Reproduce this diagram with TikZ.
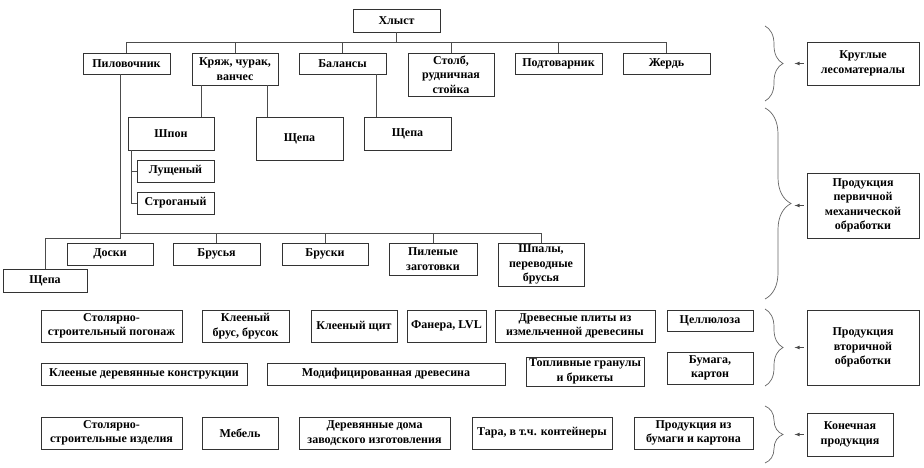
\documentclass[tikz,border=0pt]{standalone}
\usepackage{fontspec}
\setmainfont{Liberation Serif}
\usetikzlibrary{decorations.pathreplacing}

\tikzset{
  box/.style={draw=black!80, line width=0.8pt, align=center, inner sep=1pt,
    font=\fontsize{12}{14.5}\selectfont\bfseries},
  link/.style={draw=black!70, line width=0.7pt},
  brc/.style={draw=black!60, line width=0.7pt, decorate,
    decoration={brace, amplitude=#1}},
  brc/.default=18pt
}

\begin{document}
\begin{tikzpicture}[x=1pt, y=-1pt]
\useasboundingbox (0,0) rectangle (924,468);

% круглые лесоматериалы
\node[box, minimum width=87, minimum height=23] (hlyst) at (396.5,20.5) {Хлыст};
\node[box, minimum width=87, minimum height=21] (pilo) at (126.5,63.5) {Пиловочник};
\node[box, minimum width=86, minimum height=32] (kryazh) at (235,69) {Кряж, чурак,\\ ванчес};
\node[box, minimum width=87, minimum height=21] (balans) at (342.5,63.5) {Балансы};
\node[box, minimum width=86, minimum height=43] (stolb) at (451,74.5) {Столб,\\ рудничная\\ стойка};
\node[box, minimum width=87, minimum height=21] (podtov) at (558.5,63.5) {Подтоварник};
\node[box, minimum width=87, minimum height=21] (zherd) at (666.5,63.5) {Жердь};
\coordinate (bus1) at (396.5,42);
\draw[link] (hlyst.south) -- (bus1);
\foreach \n in {pilo,kryazh,balans,stolb,podtov,zherd}
  \draw[link] (\n.north) |- (bus1);

% первичная обработка
\node[box, minimum width=86, minimum height=33] (shpon) at (171,133.5) {Шпон};
\node[box, minimum width=87, minimum height=43] (shchepa2) at (299.5,138.5) {Щепа};
\node[box, minimum width=87, minimum height=33] (shchepa3) at (407.5,133.5) {Щепа};
\node[box, minimum width=77, minimum height=22] (lushch) at (175.5,171) {Лущеный};
\node[box, minimum width=77, minimum height=22] (strog) at (175.5,203) {Строганый};
\draw[link] ([xshift=10pt]kryazh.south west) -- ([xshift=10pt]kryazh.south west |- shpon.north);
\draw[link] ([xshift=-11pt]kryazh.south east) -- ([xshift=-11pt]kryazh.south east |- shchepa2.north);
\draw[link] ([xshift=-10pt]balans.south east) -- ([xshift=-10pt]balans.south east |- shchepa3.north);
\draw[link] ([xshift=4pt]shpon.south west) |- (strog.west);
\draw[link] (lushch.west) -| ([xshift=4pt]shpon.south west);

\node[box, minimum width=84, minimum height=23] (shchepa1) at (45,280.5) {Щепа};
\node[box, minimum width=86, minimum height=22] (doski) at (110,254) {Доски};
\node[box, minimum width=87, minimum height=22] (brusya) at (216.5,254) {Брусья};
\node[box, minimum width=86, minimum height=22] (bruski) at (325,254) {Бруски};
\node[box, minimum width=88, minimum height=32] (pilen) at (433,259) {Пиленые\\ заготовки};
\node[box, minimum width=86, minimum height=43] (shpaly) at (541,264.5) {Шпалы,\\ переводные\\ брусья};
\coordinate (bus2) at (120,233);
\coordinate (bend) at (120,238);
\draw[link] (pilo.south -| bend) -- (bend) -| (shchepa1.north);
\foreach \n in {brusya,bruski,pilen,shpaly}
  \draw[link] (\n.north) |- (bus2);

% вторичная обработка
\node[box, minimum width=141, minimum height=32] (pogonazh) at (111.5,326) {Столярно-\\ строительный погонаж};
\node[box, minimum width=87, minimum height=32] (kbrus) at (245.5,326) {Клееный\\ брус, брусок};
\node[box, minimum width=86, minimum height=32] (kshchit) at (354,326) {Клееный щит};
\node[box, minimum width=79, minimum height=32] (fanera) at (446.5,326) {Фанера, LVL};
\node[box, minimum width=160, minimum height=32] (plity) at (575,326) {Древесные плиты из\\ измельченной древесины};
\node[box, minimum width=86, minimum height=21] (cellul) at (710,320.5) {Целлюлоза};
\node[box, minimum width=206, minimum height=22] (kdk) at (144,374) {Клееные деревянные конструкции};
\node[box, minimum width=238, minimum height=22] (modif) at (386,374) {Модифицированная древесина};
\node[box, minimum width=118, minimum height=29] (toplivo) at (585,371.5) {Топливные гранулы\\ и брикеты};
\node[box, minimum width=86, minimum height=32] (bumaga) at (710,368) {Бумага,\\ картон};

% конечная продукция
\node[box, minimum width=141, minimum height=32] (izdeliya) at (111.5,433) {Столярно-\\ строительные изделия};
\node[box, minimum width=76, minimum height=32] (mebel) at (240,433) {Мебель};
\node[box, minimum width=151, minimum height=32] (doma) at (374.5,433) {Деревянные дома\\ заводского изготовления};
\node[box, minimum width=140, minimum height=32] (tara) at (542,433) {Тара, в т.ч. контейнеры};
\node[box, minimum width=119, minimum height=32] (izbumagi) at (693.5,433) {Продукция из\\ бумаги и картона};

% группы
\node[box, minimum width=112, minimum height=43] (krugl) at (863,63.5) {Круглые\\ лесоматериалы};
\node[box, minimum width=112, minimum height=65] (perv) at (863,205.5) {Продукция\\ первичной\\ механической\\ обработки};
\node[box, minimum width=112, minimum height=75] (vtor) at (863,347.5) {Продукция\\ вторичной\\ обработки};
\node[box, minimum width=86, minimum height=43] (konech) at (850,434.5) {Конечная\\ продукция};
\draw[brc] (765,26) -- (765,101);
\draw[brc=26pt] (765,108) -- (765,299);
\draw[brc] (765,309) -- (765,386);
\draw[brc] (765,406) -- (765,463);
\foreach \n in {krugl,perv,vtor,konech}
  \draw[link, -latex] ([xshift=-3pt]\n.west) -- ++(-9,0);
\end{tikzpicture}
\end{document}
